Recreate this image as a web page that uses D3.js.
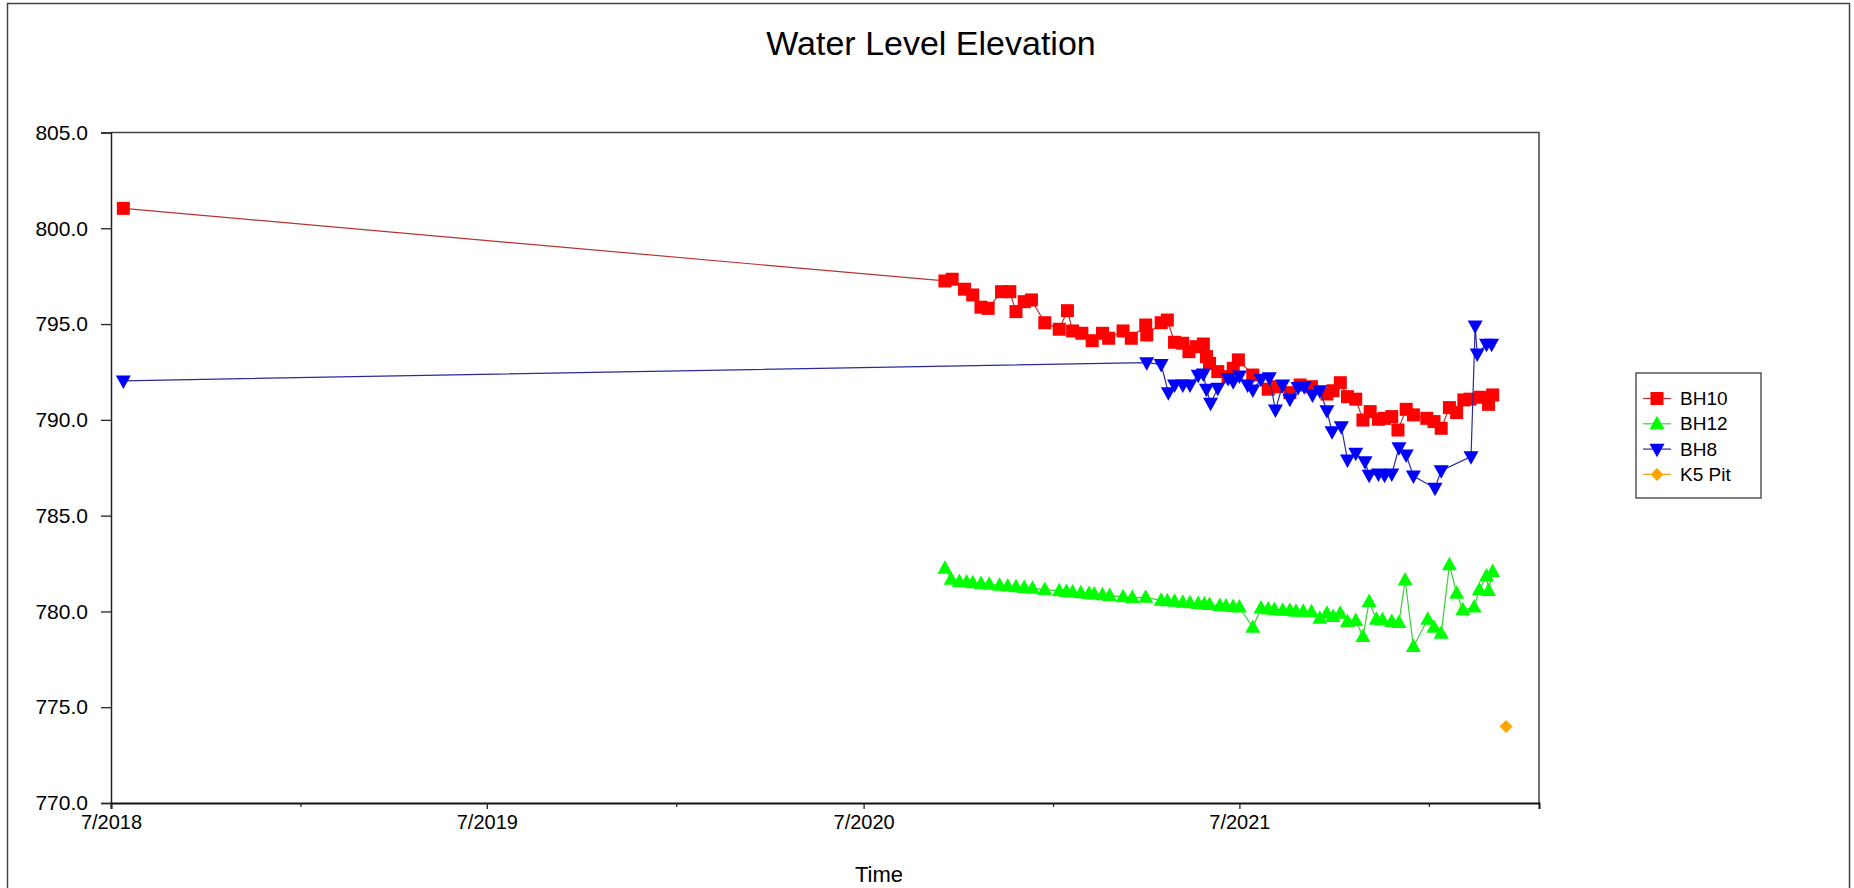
<!DOCTYPE html>
<html>
<head>
<meta charset="utf-8">
<script src="https://cdn.jsdelivr.net/npm/d3@7"></script>
<style>
  html, body { margin: 0; padding: 0; background: #fff; }
  svg { display: block; }
  text { font-family: "Liberation Sans", Arial, sans-serif; fill: #000; }
</style>
</head>
<body>
<svg id="chart" width="1854" height="888"></svg>
<script>
// ---------------- DATA ----------------
const seriesNames = ["BH10", "BH12", "BH8", "K5 Pit"];

const bh10Dates = ["2018-07-13","2020-09-18","2020-09-25","2020-10-07","2020-10-15","2020-10-23","2020-10-30","2020-11-12","2020-11-20","2020-11-26","2020-12-04","2020-12-11","2020-12-24","2021-01-07","2021-01-15","2021-01-20","2021-01-29","2021-02-08","2021-02-18","2021-02-24","2021-03-10","2021-03-18","2021-04-01","2021-04-02","2021-04-16","2021-04-22","2021-04-29","2021-05-07","2021-05-13","2021-05-20","2021-05-27","2021-05-30","2021-06-02","2021-06-10","2021-06-20","2021-06-25","2021-06-30","2021-07-14","2021-07-29","2021-08-06","2021-08-19","2021-08-29","2021-09-09","2021-09-24","2021-09-30","2021-10-07","2021-10-14","2021-10-22","2021-10-29","2021-11-05","2021-11-13","2021-11-19","2021-11-26","2021-12-02","2021-12-10","2021-12-17","2021-12-30","2022-01-06","2022-01-13","2022-01-21","2022-01-28","2022-02-04","2022-02-10","2022-02-20","2022-02-28","2022-03-04"];
const bh10Values = [801.04,797.25,797.34,796.82,796.52,795.88,795.82,796.69,796.69,795.65,796.17,796.26,795.07,794.73,795.70,794.64,794.52,794.13,794.52,794.26,794.64,794.26,794.95,794.43,795.07,795.21,794.05,794.00,793.56,793.82,793.96,793.30,792.95,792.52,792.25,792.69,793.13,792.34,791.60,791.73,791.42,791.82,791.73,791.35,791.52,791.94,791.21,791.08,789.99,790.43,790.03,790.08,790.17,789.47,790.55,790.26,790.08,789.91,789.56,790.64,790.38,791.04,791.08,791.18,790.81,791.30];

const bh12Dates = ["2020-09-18","2020-09-24","2020-10-02","2020-10-09","2020-10-15","2020-10-23","2020-10-31","2020-11-10","2020-11-18","2020-11-26","2020-12-04","2020-12-12","2020-12-24","2021-01-07","2021-01-14","2021-01-20","2021-01-28","2021-02-05","2021-02-10","2021-02-18","2021-02-25","2021-03-10","2021-03-19","2021-04-01","2021-04-16","2021-04-22","2021-04-29","2021-05-07","2021-05-14","2021-05-22","2021-05-28","2021-06-02","2021-06-12","2021-06-18","2021-06-25","2021-07-01","2021-07-14","2021-07-22","2021-07-29","2021-08-04","2021-08-12","2021-08-19","2021-08-25","2021-09-01","2021-09-09","2021-09-17","2021-09-24","2021-09-30","2021-10-07","2021-10-14","2021-10-22","2021-10-29","2021-11-04","2021-11-11","2021-11-17","2021-11-26","2021-12-03","2021-12-09","2021-12-17","2021-12-31","2022-01-06","2022-01-13","2022-01-21","2022-01-28","2022-02-03","2022-02-14","2022-02-19","2022-02-26","2022-02-28","2022-03-04"];
const bh12Values = [782.25,781.68,781.56,781.53,781.49,781.45,781.42,781.36,781.32,781.28,781.24,781.20,781.14,781.07,781.04,781.01,780.97,780.93,780.90,780.86,780.83,780.76,780.72,780.73,780.58,780.55,780.52,780.48,780.45,780.41,780.38,780.36,780.31,780.28,780.25,780.22,779.17,780.17,780.12,780.10,780.05,780.05,780.00,780.00,779.98,779.64,779.90,779.73,779.90,779.47,779.52,778.68,780.51,779.59,779.56,779.47,779.42,781.64,778.16,779.59,779.17,778.86,782.43,780.95,780.08,780.22,781.12,781.85,781.09,782.08];

const bh8Dates = ["2018-07-13","2021-04-02","2021-04-16","2021-04-23","2021-04-29","2021-05-07","2021-05-14","2021-05-22","2021-05-27","2021-05-30","2021-06-03","2021-06-10","2021-06-20","2021-06-25","2021-07-01","2021-07-09","2021-07-14","2021-07-22","2021-07-30","2021-08-05","2021-08-12","2021-08-19","2021-08-27","2021-09-02","2021-09-10","2021-09-17","2021-09-24","2021-09-29","2021-10-08","2021-10-14","2021-10-22","2021-10-31","2021-11-04","2021-11-13","2021-11-19","2021-11-26","2021-12-03","2021-12-10","2021-12-17","2022-01-07","2022-01-13","2022-02-11","2022-02-15","2022-02-17","2022-02-26","2022-03-03"];
const bh8Values = [792.04,792.99,792.90,791.42,791.82,791.82,791.82,792.34,792.40,791.60,790.87,791.65,792.17,791.99,792.29,791.82,791.56,792.12,792.20,790.52,791.82,791.08,791.70,791.73,791.30,791.52,790.48,789.38,789.65,787.91,788.26,787.82,787.12,787.18,787.12,787.18,788.55,788.17,787.07,786.43,787.35,788.08,794.90,793.44,793.95,793.95];

const k5Dates = ["2022-03-17"];
const k5Values = [773.99];

const yTickValues = [770, 775, 780, 785, 790, 795, 800, 805];
const xMajorTicks = ["2018-07-01","2019-07-01","2020-07-01","2021-07-01"];
const xMinorTicks = ["2019-01-01","2020-01-01","2021-01-01","2022-01-01"];
const xDomain = ["2018-07-01","2022-04-18"];
const yDomain = [770, 805];

const titleText = "Water Level Elevation";
const xAxisTitle = "Time";

// ---------------- DRAW ----------------
const parse = d3.timeParse("%Y-%m-%d");
const svg = d3.select("#chart");

const plot = { left: 111, right: 1539, top: 132.5, bottom: 803 };

const x = d3.scaleTime().domain(xDomain.map(parse)).range([plot.left, plot.right]);
const y = d3.scaleLinear().domain(yDomain).range([plot.bottom, plot.top]);

// outer frame
svg.append("rect").attr("x", 7.5).attr("y", 3.5).attr("width", 1842).attr("height", 900)
  .attr("fill", "none").attr("stroke", "#444").attr("stroke-width", 1.5);

// title
svg.append("text").attr("x", 931).attr("y", 55).attr("text-anchor", "middle")
  .style("font-size", "34px").text(titleText);

// plot border (top/right)
svg.append("path")
  .attr("d", `M${plot.left},${plot.top}H${plot.right}V${plot.bottom}`)
  .attr("fill", "none").attr("stroke", "#444").attr("stroke-width", 1.5);

// y axis
const yAxis = d3.axisLeft(y).tickValues(yTickValues).tickFormat(d3.format(".1f"))
  .tickSize(10).tickPadding(13);
const gy = svg.append("g").attr("transform", `translate(${plot.left},0)`).call(yAxis);
gy.select(".domain").attr("stroke", "#222").attr("stroke-width", 1.5);
gy.selectAll(".tick line").attr("stroke", "#222").attr("stroke-width", 1.3);
gy.selectAll(".tick text").style("font-size", "21px").style("font-family", '"Liberation Sans", Arial, sans-serif').attr("fill", "#000");

// x axis (major)
const xAxis = d3.axisBottom(x).tickValues(xMajorTicks.map(parse))
  .tickFormat(d3.timeFormat("%-m/%Y")).tickSize(6).tickPadding(6);
const gx = svg.append("g").attr("transform", `translate(0,${plot.bottom})`).call(xAxis);
gx.select(".domain").attr("stroke", "#111").attr("stroke-width", 2);
gx.selectAll(".tick line").attr("stroke", "#222").attr("stroke-width", 1.3);
gx.selectAll(".tick text").style("font-size", "20px").style("font-family", '"Liberation Sans", Arial, sans-serif').attr("fill", "#000");

// x axis (minor)
const xAxisMinor = d3.axisBottom(x).tickValues(xMinorTicks.map(parse)).tickFormat("").tickSize(4);
const gxm = svg.append("g").attr("transform", `translate(0,${plot.bottom})`).call(xAxisMinor);
gxm.select(".domain").remove();
gxm.selectAll(".tick line").attr("stroke", "#222").attr("stroke-width", 1.2);

// x title
svg.append("text").attr("x", 879).attr("y", 882).attr("text-anchor", "middle")
  .style("font-size", "22px").text(xAxisTitle);

// marker shapes
function markerPath(kind, s) {
  if (kind === "square") return `M${-s/2},${-s/2}h${s}v${s}h${-s}Z`;
  if (kind === "up") { const h = s * 0.9; return `M0,${-h*0.6}L${s/2},${h*0.4}L${-s/2},${h*0.4}Z`; }
  if (kind === "down") { const h = s * 0.9; return `M0,${h*0.6}L${s/2},${-h*0.4}L${-s/2},${-h*0.4}Z`; }
  if (kind === "diamond") return `M0,${-s/2}L${s/2},0L0,${s/2}L${-s/2},0Z`;
}

const series = [
  { name: seriesNames[0], dates: bh10Dates, values: bh10Values, line: "#b83232", fill: "#ff0000", kind: "square", size: 13 },
  { name: seriesNames[1], dates: bh12Dates, values: bh12Values, line: "#3ccf3c", fill: "#00ff00", kind: "up", size: 15 },
  { name: seriesNames[2], dates: bh8Dates, values: bh8Values, line: "#2a2a9c", fill: "#0000ff", kind: "down", size: 15 },
  { name: seriesNames[3], dates: k5Dates, values: k5Values, line: "#e6a020", fill: "#ffa500", kind: "diamond", size: 13 }
];

const lineGen = d3.line().x(d => x(d[0])).y(d => y(d[1]));

series.forEach(s => {
  const pts = s.dates.map((d, i) => [parse(d), s.values[i]]);
  const g = svg.append("g");
  if (pts.length > 1) {
    g.append("path").datum(pts).attr("d", lineGen)
      .attr("fill", "none").attr("stroke", s.line).attr("stroke-width", 1.2);
  }
  g.selectAll("path.m").data(pts).join("path").attr("class", "m")
    .attr("transform", d => `translate(${x(d[0])},${y(d[1])})`)
    .attr("d", markerPath(s.kind, s.size))
    .attr("fill", s.fill);
});

// legend
const lg = svg.append("g");
lg.append("rect").attr("x", 1636).attr("y", 373).attr("width", 125).attr("height", 125)
  .attr("fill", "#fff").attr("stroke", "#555").attr("stroke-width", 1.5);
series.forEach((s, i) => {
  const cy = 398.5 + i * 25.3;
  lg.append("line").attr("x1", 1643).attr("x2", 1671).attr("y1", cy).attr("y2", cy)
    .attr("stroke", s.line).attr("stroke-width", 1.2);
  lg.append("path").attr("transform", `translate(1657,${cy})`)
    .attr("d", markerPath(s.kind, s.size)).attr("fill", s.fill);
  lg.append("text").attr("x", 1680).attr("y", cy).attr("dy", "0.35em")
    .style("font-size", "19px").text(s.name);
});
</script>
</body>
</html>
